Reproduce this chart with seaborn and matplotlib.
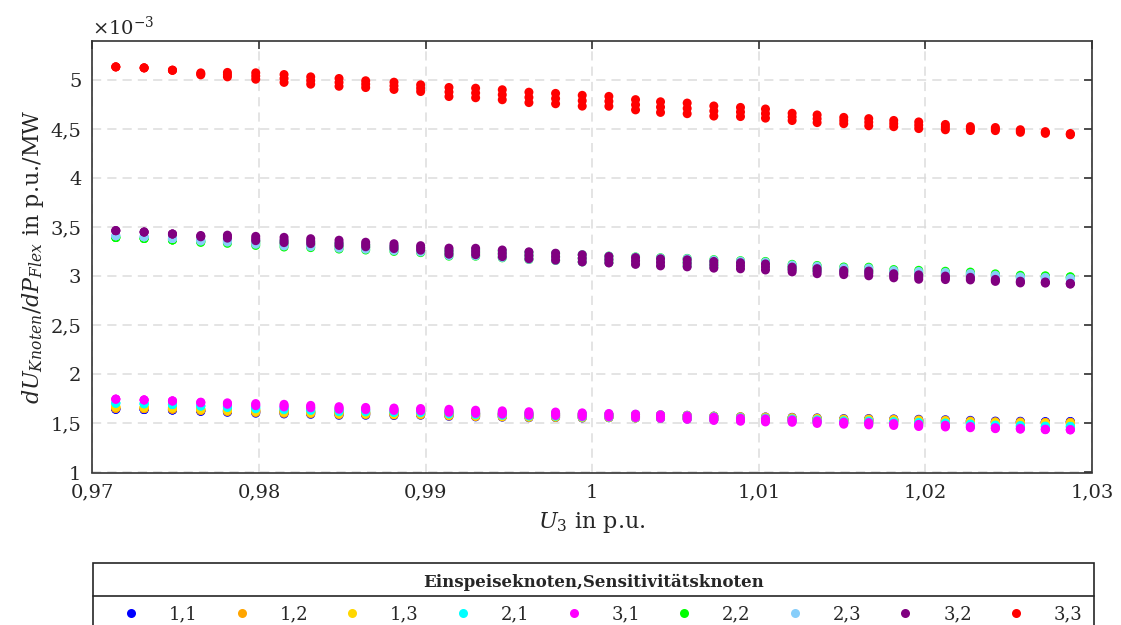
import numpy as np
import pandas as pd
import matplotlib
matplotlib.use('Agg')
import matplotlib.pyplot as plt
from matplotlib.lines import Line2D
from matplotlib.ticker import FuncFormatter, MultipleLocator
import seaborn as sns

# U_3 der einzelnen Betriebspunkte (p.u.)
u3 = [0.9714, 0.9731, 0.9748, 0.9765, 0.9781, 0.9798, 0.9815, 0.9831, 0.9848, 0.9864,
      0.9881, 0.9897, 0.9914, 0.9930, 0.9946, 0.9962, 0.9978, 0.9994, 1.0010, 1.0026,
      1.0041, 1.0057, 1.0073, 1.0089, 1.0104, 1.0120, 1.0135, 1.0151, 1.0166, 1.0181,
      1.0196, 1.0212, 1.0227, 1.0242, 1.0257, 1.0272, 1.0287]

# relative Streuung innerhalb eines Betriebspunkts (oberer/unterer Wert)
spread = [0, 0, 0, 0.004, 0.009, 0.013, 0.016, 0.015, 0.016, 0.014,
          0.015, 0.014, 0.019, 0.020, 0.021, 0.022, 0.022, 0.023, 0.021, 0.022,
          0.023, 0.023, 0.022, 0.020, 0.020, 0.016, 0.017, 0.014, 0.016, 0.014,
          0.015, 0.012, 0.009, 0.007, 0.006, 0.004, 0.003]

# Sensitivitaeten in 1e-3 p.u./MW
s11 = [1.645, 1.642, 1.637, 1.626, 1.621, 1.615, 1.610, 1.605, 1.596, 1.595,
       1.593, 1.595, 1.588, 1.583, 1.581, 1.576, 1.578, 1.574, 1.575, 1.573,
       1.570, 1.565, 1.558, 1.553, 1.551, 1.550, 1.544, 1.539, 1.538, 1.536,
       1.531, 1.529, 1.525, 1.519, 1.518, 1.516, 1.518]
s12 = [1.655, 1.652, 1.647, 1.635, 1.629, 1.622, 1.617, 1.612, 1.602, 1.601,
       1.599, 1.599, 1.592, 1.586, 1.584, 1.579, 1.580, 1.576, 1.576, 1.573,
       1.570, 1.565, 1.557, 1.552, 1.549, 1.547, 1.541, 1.535, 1.534, 1.532,
       1.526, 1.524, 1.518, 1.512, 1.511, 1.508, 1.510]
s13 = [1.670, 1.666, 1.660, 1.647, 1.640, 1.633, 1.627, 1.621, 1.611, 1.609,
       1.606, 1.606, 1.598, 1.592, 1.588, 1.582, 1.583, 1.578, 1.577, 1.574,
       1.570, 1.564, 1.556, 1.550, 1.547, 1.544, 1.536, 1.530, 1.528, 1.525,
       1.519, 1.516, 1.510, 1.503, 1.501, 1.498, 1.498]
s21 = [1.707, 1.701, 1.693, 1.679, 1.670, 1.661, 1.653, 1.645, 1.633, 1.629,
       1.624, 1.622, 1.612, 1.605, 1.600, 1.592, 1.591, 1.584, 1.581, 1.576,
       1.570, 1.562, 1.552, 1.544, 1.539, 1.534, 1.525, 1.517, 1.513, 1.508,
       1.500, 1.496, 1.488, 1.479, 1.475, 1.470, 1.469]
s31 = [1.748, 1.740, 1.730, 1.714, 1.703, 1.692, 1.682, 1.672, 1.658, 1.652,
       1.645, 1.641, 1.629, 1.619, 1.612, 1.602, 1.599, 1.590, 1.585, 1.578,
       1.570, 1.560, 1.548, 1.538, 1.531, 1.524, 1.513, 1.503, 1.497, 1.490,
       1.480, 1.473, 1.463, 1.452, 1.446, 1.439, 1.436]
s22 = [3.396, 3.386, 3.371, 3.353, 3.352, 3.337, 3.326, 3.318, 3.305, 3.292,
       3.279, 3.265, 3.237, 3.238, 3.223, 3.207, 3.197, 3.184, 3.174, 3.164,
       3.154, 3.147, 3.136, 3.129, 3.121, 3.098, 3.085, 3.074, 3.069, 3.048,
       3.039, 3.034, 3.030, 3.015, 3.002, 3.000, 2.992]
s23 = [3.414, 3.403, 3.386, 3.367, 3.365, 3.349, 3.337, 3.328, 3.314, 3.300,
       3.287, 3.272, 3.242, 3.242, 3.226, 3.209, 3.198, 3.184, 3.173, 3.162,
       3.151, 3.144, 3.131, 3.124, 3.114, 3.091, 3.077, 3.065, 3.059, 3.038,
       3.027, 3.022, 3.016, 3.001, 2.987, 2.984, 2.975]
s32 = [3.466, 3.452, 3.432, 3.410, 3.405, 3.386, 3.371, 3.359, 3.342, 3.325,
       3.308, 3.290, 3.257, 3.254, 3.235, 3.215, 3.201, 3.184, 3.170, 3.157,
       3.143, 3.133, 3.118, 3.108, 3.096, 3.070, 3.053, 3.039, 3.030, 3.006,
       2.993, 2.985, 2.977, 2.959, 2.942, 2.937, 2.925]
s33 = [5.136, 5.126, 5.102, 5.065, 5.057, 5.043, 5.018, 4.997, 4.978, 4.960,
       4.943, 4.919, 4.880, 4.870, 4.852, 4.825, 4.813, 4.791, 4.785, 4.750,
       4.726, 4.713, 4.686, 4.676, 4.660, 4.626, 4.607, 4.589, 4.572, 4.558,
       4.541, 4.522, 4.507, 4.502, 4.482, 4.467, 4.450]

labels = ['1,1', '1,2', '1,3', '2,1', '3,1', '2,2', '2,3', '3,2', '3,3']
colors = ['#0000ff', '#ffa500', '#ffd700', '#00ffff', '#ff00ff',
          '#00ff00', '#87cefa', '#800080', '#ff0000']
werte = [s11, s12, s13, s21, s31, s22, s23, s32, s33]

# je Betriebspunkt: oberer, mittlerer und unterer Wert
rows = []
for name, vals in zip(labels, werte):
    for x, c, s in zip(u3, vals, spread):
        for sign in (1, 0, -1):
            rows.append((x, c * (1 + sign * s / 2) * 1e-3, name))
df = pd.DataFrame(rows, columns=['U3', 'dU', 'knoten'])

sns.set_theme(style='white')
plt.rcParams['font.family'] = ['DejaVu Serif']
plt.rcParams['mathtext.fontset'] = 'dejavuserif'

fig = plt.figure(figsize=(11.21, 6.25), dpi=100)
ax = fig.add_axes([0.0825, 0.244, 0.8916, 0.6904])

sns.scatterplot(data=df, x='U3', y='dU', hue='knoten', hue_order=labels,
                palette=dict(zip(labels, colors)), s=42, linewidth=0, ax=ax)

ax.set_xlim(0.97, 1.03)
ax.set_ylim(1e-3, 5.4e-3)
ax.xaxis.set_major_locator(MultipleLocator(0.01))
ax.yaxis.set_major_locator(MultipleLocator(0.5e-3))
ax.xaxis.set_major_formatter(FuncFormatter(lambda v, p: ('%g' % round(v, 4)).replace('.', ',')))
ax.yaxis.set_major_formatter(FuncFormatter(lambda v, p: ('%g' % round(v * 1e3, 3)).replace('.', ',')))

ax.grid(True, linestyle=(0, (6, 4)), color='#dcdcdc', linewidth=1.1)
ax.set_axisbelow(True)
for sp in ax.spines.values():
    sp.set_color('#333333')
    sp.set_linewidth(1.2)
ax.tick_params(direction='in', top=True, right=True, length=6, width=1.2,
               color='#333333', labelsize=14, labelcolor='#262626', pad=8)

ax.set_xlabel(r'$U_3$ in p.u.', fontsize=16, color='#262626', labelpad=6)
ax.set_ylabel(r'$dU_{Knoten}/dP_{Flex}$ in p.u./MW', fontsize=16, color='#262626', labelpad=3)
ax.text(0.0, 1.004, r'$\times10^{-3}$', transform=ax.transAxes, ha='left', va='bottom',
        fontsize=14, color='#262626')

handles, _ = ax.get_legend_handles_labels()
ax.legend_.remove()
for h in handles:
    h.set_markersize(6.5)
    h.set_markeredgewidth(0)
leg = fig.legend(handles, labels, loc='upper left', ncol=9, mode='expand',
                 bbox_to_anchor=(0.083, -0.1, 0.8925, 0.1985), borderaxespad=0,
                 title='Einspeiseknoten,Sensitivitätsknoten',
                 title_fontproperties={'weight': 'bold', 'size': 12},
                 fontsize=13, frameon=True, fancybox=False, framealpha=1,
                 edgecolor='#262626', borderpad=0.6, labelspacing=0.75,
                 handlelength=3.0, handletextpad=0.6)
leg.get_frame().set_linewidth(1.2)

fig.canvas.draw()
bb = leg.get_window_extent().transformed(fig.transFigure.inverted())
fig.add_artist(Line2D([bb.x0, bb.x1], [1 - 596 / 625] * 2, transform=fig.transFigure,
                      color='#262626', linewidth=1.2, zorder=10))

fig.savefig('out.png', dpi=100)
